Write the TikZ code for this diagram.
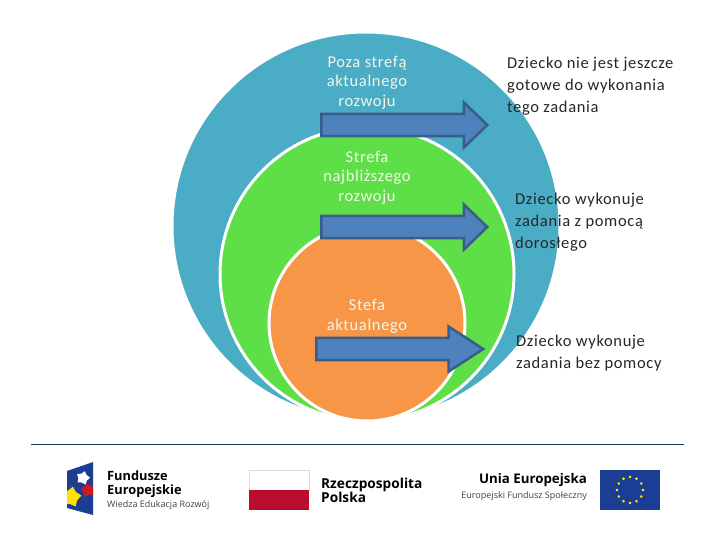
\documentclass[tikz,border=0pt]{standalone}
\usepackage{fontspec}
\setmainfont[LetterSpace=4]{Carlito}
\newfontfamily\logofont{Open Sans}
\usetikzlibrary{positioning,shapes.arrows,shapes.geometric}
\definecolor{zoneblue}{HTML}{4BACC6}
\definecolor{zonegreen}{HTML}{5FDF47}
\definecolor{zoneorange}{HTML}{F79646}
\definecolor{arrowfill}{HTML}{4F81BD}
\definecolor{arrowline}{HTML}{385D8A}
\definecolor{ruleline}{HTML}{1F3A4D}
\definecolor{textdark}{HTML}{262626}
\definecolor{labelpale}{HTML}{F2F7E8}
\definecolor{feblue}{HTML}{1B3E94}
\definecolor{plred}{HTML}{BA0C2F}
\definecolor{euyellow}{HTML}{FFED00}

\begin{document}
\begin{tikzpicture}[x=1pt,y=-1pt,
  zone/.style={circle, draw=white, line width=3pt, inner sep=0pt},
  zonelab/.style={align=center, text=labelpale, font=\fontsize{16.5}{19.5}\selectfont, inner sep=0pt},
  sidelab/.style={align=left, anchor=west, text=textdark, font=\fontsize{16.5}{22}\selectfont, inner sep=0pt},
  steparrow/.style={single arrow, draw=arrowline, fill=arrowfill, line width=2.5pt, inner xsep=0pt, inner ysep=9.8pt,
                    anchor=west, single arrow head extend=11.5pt},
  logobig/.style={anchor=west, align=left, inner sep=0pt, font=\logofont\fontsize{12.8}{14}\selectfont\bfseries},
  logosmall/.style={inner sep=0pt, text=black!75, font=\logofont\fontsize{9}{10}\selectfont},
  festar/.style={star, star points=5, inner sep=0pt},
  eustar/.style={star, star points=5, fill=euyellow, inner sep=0pt, minimum size=3pt}
]
\useasboundingbox (0,0) rectangle (720,540);
% ----- nested zones -----
\node[zone, fill=zoneblue, minimum size=388pt] (outer) at (366,226) {};
\node[zone, fill=zonegreen, minimum size=294pt] (middle) at (367,274) {};
\node[zone, fill=zoneorange, minimum size=196pt] (inner) at (367,323) {};
% ----- zone labels -----
\node[zonelab] (outerlab) at (367,82.5) {Poza strefą\\aktualnego\\rozwoju};
\node[zonelab] (middlelab) at (367,177.5) {Strefa\\najbliższego\\rozwoju};
\node[zonelab] (innerlab) at (367,316.5) {Stefa\\aktualnego};
% ----- arrows -----
\node[steparrow, minimum height=166pt, single arrow tip angle=88] (arrowa) at (320,125) {};
\node[steparrow, minimum height=166pt, single arrow tip angle=88] (arrowb) at (320,227) {};
\node[steparrow, minimum height=167pt, single arrow tip angle=66] (arrowc) at (315,349) {};
% ----- right column -----
\node[sidelab] (sidea) at (507,86.5) {Dziecko nie jest jeszcze\\gotowe do wykonania\\tego zadania};
\node[sidelab] (sideb) at (515,222.5) {Dziecko wykonuje\\zadania z pomocą\\dorosłego};
\node[sidelab] (sidec) at (516,353.5) {Dziecko wykonuje\\zadania bez pomocy};
% ----- footer -----
\coordinate (rulea) at (31,444);
\coordinate (ruleb) at (684,444);
\draw[ruleline, line width=1pt] (rulea) -- (ruleb);
% fundusze logo
\fill[feblue] (67,471) -- (93,462) -- (93,515) -- (67,508) -- cycle;
\begin{scope}
\clip (67,471) -- (93,462) -- (93,515) -- (67,508) -- cycle;
\node[festar, fill=white, minimum size=14pt, rotate=-15] (fewhite) at (83,478) {};
\node[festar, fill=plred!85!orange, minimum size=15pt, rotate=10] (fered) at (88,490) {};
\node[festar, fill=yellow!85!orange, minimum size=21pt, rotate=-10] (feyellow) at (71,497) {};
\end{scope}
\node[logobig] (felab) at (107,484) {Fundusze\\Europejskie};
\node[logosmall, anchor=west] (fesub) at (107,505) {Wiedza Edukacja Rozwój};
% polska logo
\draw[black!15, fill=white] (249,470) rectangle (309,490);
\fill[plred] (249,490) rectangle (309,510);
\node[logobig, font=\logofont\fontsize{13.7}{14}\selectfont\bfseries] (pllab) at (321,490.5) {Rzeczpospolita\\Polska};
% unia logo
\node[logobig, anchor=east, font=\logofont\fontsize{13.3}{14}\selectfont\bfseries] (eulab) at (587,480) {Unia Europejska};
\node[logosmall, anchor=east] (eusub) at (587,496) {Europejski Fundusz Społeczny};
\fill[feblue] (600,470) rectangle (660,510);
\foreach \a in {0,30,...,330}{\node[eustar] at ([shift={(\a:13pt)}]630,490) {};}
\end{tikzpicture}
\end{document}
